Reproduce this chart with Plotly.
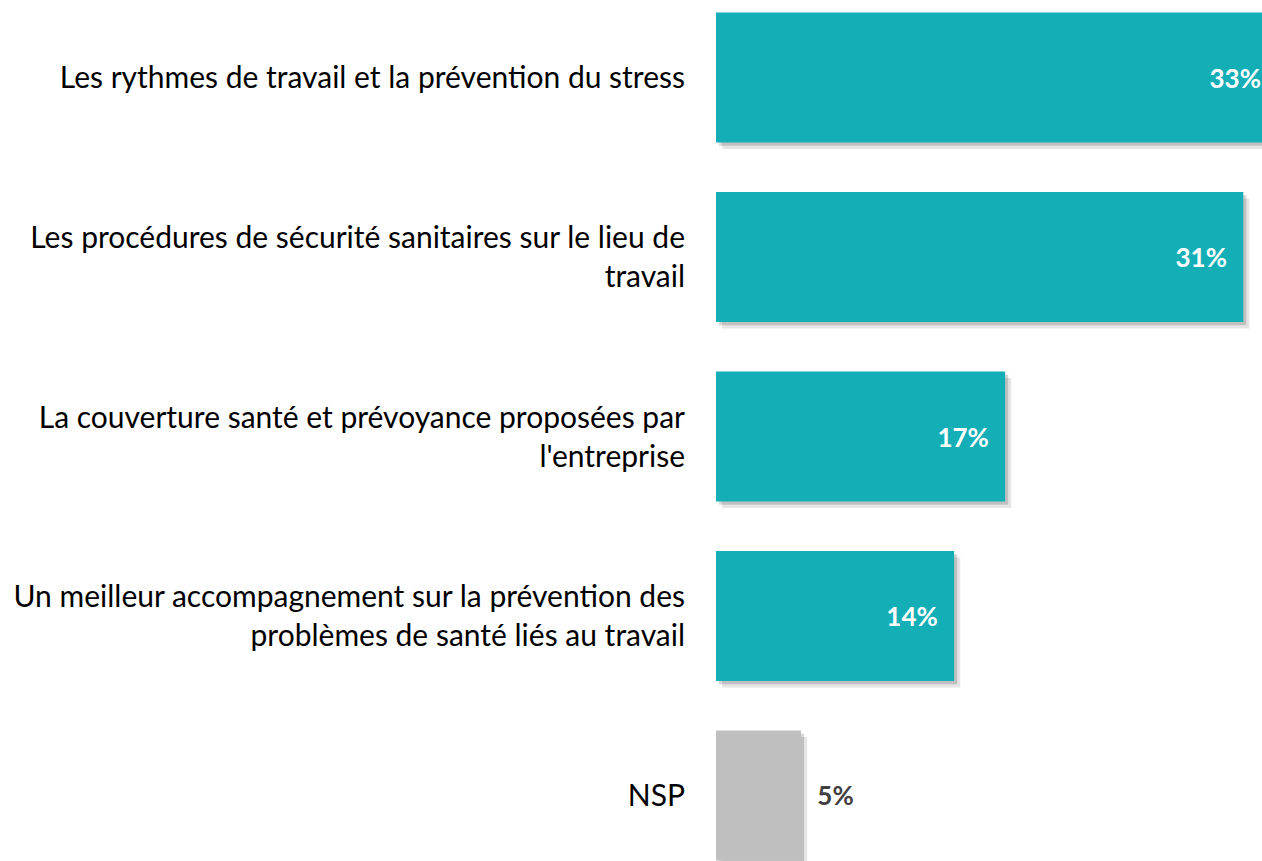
import plotly.graph_objects as go

labels = [
    "Les rythmes de travail et la prévention du stress",
    "Les procédures de sécurité sanitaires sur le lieu de<br>travail",
    "La couverture santé et prévoyance proposées par<br>l'entreprise",
    "Un meilleur accompagnement sur la prévention des<br>problèmes de santé liés au travail",
    "NSP",
]
values = [33, 31, 17, 14, 5]
colors = ["#14AEB7", "#14AEB7", "#14AEB7", "#14AEB7", "#BFBFBF"]
text_pos = ["inside", "inside", "inside", "inside", "outside"]

NB = "\u00a0"
templates = ["<b>%{x}%</b>" + NB * 2 if p == "inside" else NB * 2 + "<b>%{x}%</b>" for p in text_pos]

bar_w = 0.725

fig = go.Figure()

# soft drop shadow (two layers to fake a blur)
for base, shift, col in [(0.36, 0.036, "rgba(0,0,0,0.10)"), (0.18, 0.018, "rgba(0,0,0,0.16)")]:
    fig.add_trace(go.Bar(
        y=labels, x=values, orientation="h", base=base,
        width=bar_w, offset=-bar_w / 2 + shift,
        marker=dict(color=col, line=dict(width=0)),
        hoverinfo="skip", showlegend=False,
    ))

fig.add_trace(go.Bar(
    y=labels, x=values, orientation="h",
    width=bar_w, offset=-bar_w / 2,
    marker=dict(color=colors, line=dict(width=0)),
    texttemplate=templates, textposition=text_pos,
    insidetextanchor="end", constraintext="none",
    insidetextfont=dict(family="Lato", size=26, color="white"),
    outsidetextfont=dict(family="Lato", size=26, color="#404040"),
    showlegend=False,
))

fig.update_layout(
    width=1262, height=861,
    margin=dict(l=716, r=0, t=0, b=0),
    paper_bgcolor="white", plot_bgcolor="white",
    barmode="overlay",
    font=dict(family="Lato", size=30, color="#000000"),
)
fig.update_xaxes(visible=False, range=[0, 32.1])
fig.update_yaxes(
    range=[4.365, -0.432], showgrid=False, zeroline=False, showline=False,
    ticks="", ticklabelstandoff=30,
    tickfont=dict(family="Lato", size=30, color="#000000"),
)

fig.write_html("out.html", config={"displayModeBar": False},
               post_script="document.body.style.margin='0px';")
